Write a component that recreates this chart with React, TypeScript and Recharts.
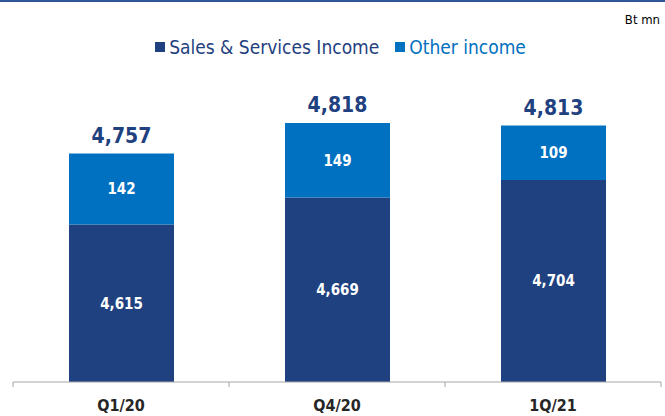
import { Bar, BarChart, LabelList, XAxis, YAxis } from "recharts";

const categories = ["Q1/20", "Q4/20", "1Q/21"];
const salesServices = [4615, 4669, 4704];
const otherIncome = [142, 149, 109];
const totals = [4757, 4818, 4813];

const DARK = "#1F4180";
const LIGHT = "#0070C0";
const FONT = "'DejaVu Sans Condensed', 'Liberation Sans Narrow', 'DejaVu Sans', sans-serif";

const W = 665;
const H = 416;
const margin = { top: 82, right: 4, bottom: 0, left: 13 };
const band = (W - margin.left - margin.right) / categories.length;

const data = categories.map((name, i) => ({
  name,
  sales: salesServices[i],
  other: otherIncome[i],
  total: totals[i],
}));

const fmt = (v: number) => v.toLocaleString("en-US");

function CategoryTick(props: any) {
  const { x, y, payload, index } = props;
  const last = index === categories.length - 1;
  return (
    <g>
      <line x1={x - band / 2} y1={y} x2={x - band / 2} y2={y + 5} stroke="#A6A6A6" />
      {last && <line x1={x + band / 2} y1={y} x2={x + band / 2} y2={y + 5} stroke="#A6A6A6" />}
      <text
        x={x}
        y={y + 29}
        textAnchor="middle"
        fontFamily={FONT}
        fontSize={16}
        fontWeight="bold"
        fill="#262626"
      >
        {payload.value}
      </text>
    </g>
  );
}

const legendItems = [
  { label: "Sales & Services Income", color: DARK },
  { label: "Other income", color: LIGHT },
];

export default function App() {
  return (
    <div style={{ position: "relative", width: W, height: H, background: "#fff", fontFamily: FONT }}>
      <style>{"body{margin:0}"}</style>
      <div style={{ position: "absolute", top: 0, left: 0, width: W, height: 2, background: "#2F5597" }} />
      <div style={{ position: "absolute", top: 12, right: 5, fontSize: 13, color: "#000" }}>Bt mn</div>
      <div
        style={{
          position: "absolute",
          top: 36,
          left: 0,
          width: W,
          display: "flex",
          justifyContent: "center",
          gap: 16,
          fontSize: 19,
          paddingLeft: 16,
          boxSizing: "border-box",
        }}
      >
        {legendItems.map((it) => (
          <div key={it.label} style={{ display: "flex", alignItems: "center", gap: 4, color: it.color }}>
            <span style={{ display: "inline-block", width: 10, height: 10, background: it.color }} />
            <span>{it.label}</span>
          </div>
        ))}
      </div>
      <BarChart width={W} height={H} data={data} margin={margin} barSize={105}>
        <XAxis
          dataKey="name"
          height={34}
          tickSize={0}
          tickMargin={0}
          tickLine={false}
          axisLine={{ stroke: "#A6A6A6" }}
          tick={<CategoryTick />}
          interval={0}
        />
        <YAxis hide domain={[4300, 4900]} allowDataOverflow />
        <Bar dataKey="sales" stackId="a" fill={DARK} isAnimationActive={false}>
          <LabelList
            dataKey="sales"
            position="center"
            formatter={(v: any) => fmt(Number(v))}
            fill="#fff"
            fontFamily={FONT}
            fontSize={15}
            fontWeight="bold"
          />
        </Bar>
        <Bar dataKey="other" stackId="a" fill={LIGHT} isAnimationActive={false}>
          <LabelList
            dataKey="other"
            position="center"
            formatter={(v: any) => fmt(Number(v))}
            fill="#fff"
            fontFamily={FONT}
            fontSize={15}
            fontWeight="bold"
          />
          <LabelList
            dataKey="total"
            position="top"
            offset={11}
            formatter={(v: any) => fmt(Number(v))}
            fill={DARK}
            fontFamily={FONT}
            fontSize={21}
            fontWeight="bold"
          />
        </Bar>
      </BarChart>
    </div>
  );
}
